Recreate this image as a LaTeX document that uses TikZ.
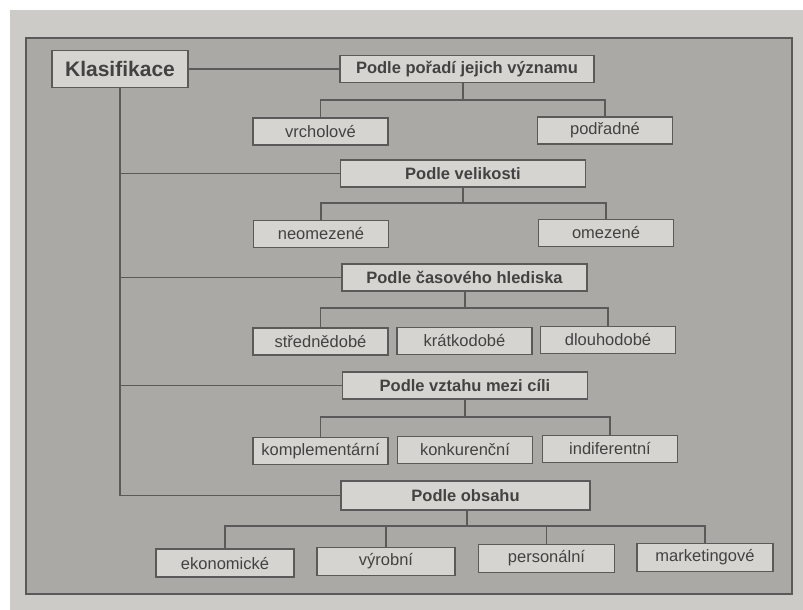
\documentclass[tikz,border=0pt]{standalone}
\usepackage{fontspec}
\setmainfont{Liberation Sans}
\definecolor{pagebg}{RGB}{204,203,199}
\definecolor{framebg}{RGB}{170,169,165}
\definecolor{boxbg}{RGB}{213,212,208}
\definecolor{ink}{RGB}{66,66,66}
\definecolor{rule}{RGB}{90,90,90}
\tikzset{
  box/.style={draw=rule, line width=1.3pt, fill=boxbg, text=ink, inner sep=0pt, anchor=center},
  kid/.style={box, minimum width=135pt, minimum height=27pt, font=\fontsize{16.5}{18}\selectfont},
  crit/.style={box, minimum width=245pt, minimum height=27pt, font=\fontsize{16.5}{18}\selectfont\bfseries},
  link/.style={draw=rule, line width=1.3pt},
}
\begin{document}
\begin{tikzpicture}[x=1pt,y=-1pt]
\useasboundingbox (0,0) rectangle (803,610);
\fill[white] (0,0) rectangle (803,610);
\fill[pagebg] (10,10) rectangle (803,610);
\filldraw[fill=framebg, draw=rule, line width=1.3pt] (26,38) rectangle (792,594);

\node[box, minimum width=136pt, minimum height=37pt, font=\fontsize{21}{23}\selectfont\bfseries] (K) at (120,69) {Klasifikace};

\node[crit, minimum width=254pt] (P1) at (467,69) {Podle pořadí jejich významu};
\node[kid] (a1) at (320.5,131.5) {vrcholové};
\node[kid] (a2) at (605,130.5) {podřadné};

\node[crit] (P2) at (463,173.5) {Podle velikosti};
\node[kid] (b1) at (321,234) {neomezené};
\node[kid] (b2) at (606,233) {omezené};

\node[crit] (P3) at (464.5,277.5) {Podle časového hlediska};
\node[kid] (c1) at (320.5,341.5) {střednědobé};
\node[kid] (c2) at (464.5,341) {krátkodobé};
\node[kid] (c3) at (608,340) {dlouhodobé};

\node[crit] (P4) at (465,385.5) {Podle vztahu mezi cíli};
\node[kid] (d1) at (320.5,451) {komplementární};
\node[kid] (d2) at (465,450) {konkurenční};
\node[kid] (d3) at (610,449) {indiferentní};

\node[crit, minimum width=249pt, minimum height=29pt] (P5) at (465.5,495.5) {Podle obsahu};
\node[kid, minimum width=138pt, minimum height=28pt] (e1) at (225,563) {ekonomické};
\node[kid, minimum width=138pt, minimum height=28pt] (e2) at (386,561.5) {výrobní};
\node[kid, minimum width=136pt, minimum height=28pt] (e3) at (546.5,558.5) {personální};
\node[kid, minimum width=136pt, minimum height=28pt] (e4) at (705,557.5) {marketingové};

% trunk
\draw[link] (K.east) -- (P1.west);
\draw[link] (K.south) -- (K.south |- P5.west) -- (P5.west);
\draw[link] (K.south |- P2.west) -- (P2.west);
\draw[link] (K.south |- P3.west) -- (P3.west);
\draw[link] (K.south |- P4.west) -- (P4.west);

% branches
\coordinate (j1) at (463,100);
\draw[link] (j1 |- P1.south) -- (j1);
\draw[link] (a1.north) -- (a1.north |- j1) -- (a2.north |- j1) -- (a2.north);

\coordinate (j2) at (463,203);
\draw[link] (P2.south) -- (P2.south |- j2);
\draw[link] (b1.north) -- (b1.north |- j2) -- (b2.north |- j2) -- (b2.north);

\coordinate (j3) at (465,308);
\draw[link] (j3 |- P3.south) -- (j3);
\draw[link] (c1.north) -- (c1.north |- j3) -- (c3.north |- j3) -- (c3.north);

\coordinate (j4) at (465,417);
\draw[link] (P4.south) -- (P4.south |- j4);
\draw[link] (d1.north) -- (d1.north |- j4) -- (d3.north |- j4) -- (d3.north);

\coordinate (j5) at (467,526);
\draw[link] (j5 |- P5.south) -- (j5);
\draw[link] (e1.north) -- (e1.north |- j5) -- (e4.north |- j5) -- (e4.north);
\draw[link] (e2.north) -- (e2.north |- j5);
\draw[link] (e3.north) -- (e3.north |- j5);
\end{tikzpicture}
\end{document}
